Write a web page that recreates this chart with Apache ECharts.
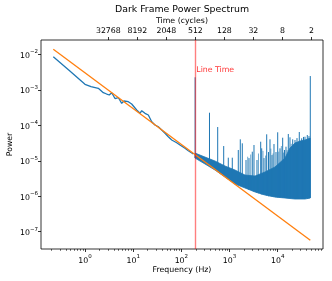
<!DOCTYPE html>
<html><head><meta charset="utf-8">
<script src="https://cdn.jsdelivr.net/npm/echarts@6/dist/echarts.min.js"></script>
<style>html,body{margin:0;padding:0;background:#fff}#c{width:332px;height:281px}</style>
</head><body><div id="c"></div>
<script>
// ---- data ----
const SAMPLE_RATE = 100000;           // Hz, cycles = SAMPLE_RATE / f
const LINE_TIME_CYCLES = 512;
const topCycles = [32768, 8192, 2048, 512, 128, 32, 8, 2];
const xMajorTicks = [1, 10, 100, 1000, 10000];
const yMajorTicks = [1e-7, 1e-6, 1e-5, 1e-4, 1e-3, 1e-2];

// low-frequency part of the spectrum
const lowFreq  = [0.2198, 0.4656, 1.0, 1.332, 1.888, 2.399, 2.820, 3.192, 3.582, 4.195, 4.911, 5.776, 6.446, 7.92, 9.31, 11.83, 13.86, 15.03, 17.59, 20.60, 24.23, 28.37, 33.22, 39.06, 45.76, 53.55, 63.07, 80.06, 93.69, 118.9, 139.3, 177.0];
const lowPower = [8.56e-3, 3.54e-3, 1.43e-3, 1.22e-3, 1.10e-3, 8.28e-4, 7.60e-4, 7.13e-4, 8.28e-4, 5.68e-4, 6.05e-4, 4.16e-4, 4.83e-4, 4.61e-4, 3.97e-4, 2.69e-4, 2.17e-4, 2.57e-4, 2.17e-4, 1.95e-4, 1.26e-4, 1.02e-4, 9.10e-5, 7.35e-5, 5.93e-5, 4.76e-5, 3.84e-5, 3.22e-5, 2.78e-5, 2.24e-5, 1.92e-5, 1.55e-5];

// dense noisy band (upper / lower envelope)
const bandFreq = [191.9, 309.5, 499.2, 805.0, 1298, 2094, 3377, 5445, 8780, 14160, 17980, 22840, 29000, 36830, 47450];
const bandHigh = [1.65e-5, 1.27e-5, 9.84e-6, 7.11e-6, 5.48e-6, 3.96e-6, 3.71e-6, 4.82e-6, 6.67e-6, 1.19e-5, 2.29e-5, 3.16e-5, 3.58e-5, 3.84e-5, 4.35e-5];
const bandLow  = [1.19e-5, 8.10e-6, 5.48e-6, 3.48e-6, 2.21e-6, 1.71e-6, 1.32e-6, 1.08e-6, 9.51e-7, 8.91e-7, 8.63e-7, 8.35e-7, 8.35e-7, 8.35e-7, 8.91e-7];

// strong narrow spikes
const spikeFreq = [193, 383.7, 567.9, 756.3, 942.5, 1141, 1520, 1672, 1840, 2197, 2535, 2966, 3218, 3715, 4434, 4650, 5190, 5906, 6436, 6915, 7608, 8370, 9212, 9990, 11150, 12680, 13820, 14860, 16590, 17980, 20470, 22840, 25130, 28050, 31470, 34290, 36830, 41110, 44570, 47450];
const spikeTop  = [2.25e-3, 2.26e-4, 8.93e-5, 2.60e-5, 1.22e-5, 1.22e-5, 2.01e-5, 4.02e-5, 3.10e-5, 1.05e-5, 1.19e-5, 1.80e-5, 2.78e-5, 1.05e-5, 3.44e-5, 2.24e-5, 1.19e-5, 5.56e-5, 1.76e-5, 4.02e-5, 1.45e-5, 2.96e-5, 1.76e-5, 6.34e-5, 2.24e-5, 4.46e-5, 2.01e-5, 2.49e-5, 5.68e-5, 4.58e-5, 4.02e-5, 3.84e-5, 4.35e-5, 6.46e-5, 4.29e-5, 4.69e-5, 4.76e-5, 5.31e-5, 4.97e-5, 2.44e-3];
const spikeBase = [1.2e-5, 7e-6, 5e-6, 3.8e-6, 3.2e-6, 2.7e-6, 2.2e-6, 2e-6, 1.9e-6, 1.7e-6, 1.5e-6, 1.4e-6, 1.35e-6, 1.25e-6, 1.15e-6, 1.12e-6, 1.1e-6, 1.05e-6, 1.0e-6, 1.0e-6, 9.7e-7, 9.5e-7, 9.3e-7, 9.2e-7, 9e-7, 9e-7, 9e-7, 8.9e-7, 8.8e-7, 8.7e-7, 8.6e-7, 8.5e-7, 8.4e-7, 8.4e-7, 8.4e-7, 8.4e-7, 8.4e-7, 8.5e-7, 8.7e-7, 9e-7];

// fainter thin spikes on top of the band
const faintSpikeFreq = [2380, 2750, 3990, 4950, 5600, 7200, 8000, 10500, 11900, 13200, 15700, 19100, 21600, 24000, 26500];
const faintSpikeTop  = [1.3e-5, 1.5e-5, 1.6e-5, 1.9e-5, 1.4e-5, 2.2e-5, 1.6e-5, 1.8e-5, 2.6e-5, 1.7e-5, 2.0e-5, 3.0e-5, 2.6e-5, 3.3e-5, 3.0e-5];
const faintSpikeBase = [1.6e-6, 1.5e-6, 1.2e-6, 1.1e-6, 1.1e-6, 1.0e-6, 9.6e-7, 9.2e-7, 9e-7, 9e-7, 8.8e-7, 8.6e-7, 8.5e-7, 8.4e-7, 8.4e-7];

// power-law fit line
const fitFreq  = [0.2198, 47450];
const fitPower = [1.384e-2, 5.73e-8];

const thresholdPower = 2.04e-6;
const lineTimeLabelPower = 3.6e-3;

// ---- chart ----
const FONT = 'DejaVu Sans';
const X_MIN = 0.1221, X_MAX = 87100;
const Y_MIN = 3.26e-8, Y_MAX = 2.53e-2;
const BLUE = '#1f77b4';

const xMinorTicks = [];
for (let k = -1; k <= 4; k++) for (let m = 2; m <= 9; m++) {
  const v = m * Math.pow(10, k);
  if (v > X_MIN && v < X_MAX) xMinorTicks.push(v);
}
const topTickFreq = topCycles.map(c => SAMPLE_RATE / c);

function pow10Label(v) {
  const e = Math.round(Math.log10(v));
  return '{b|10}{s|' + String(e).replace('-', '\u2212') + '}';
}
const richExp = {
  b: {fontSize: 7.8, fontFamily: FONT, color: '#000', lineHeight: 11, verticalAlign: 'bottom'},
  s: {fontSize: 5.5, fontFamily: FONT, color: '#000', lineHeight: 6, verticalAlign: 'top'}
};
const tickStyle = {color: '#000', width: 0.8};
const nameStyle = {fontSize: 7.8, fontFamily: FONT, color: '#000'};

function spikeSeries(name, freqs, tops, bases, width, opacity) {
  return {type: 'custom', name, z: 2, silent: true, clip: true,
    data: freqs.map((f, i) => [f, tops[i], bases[i]]),
    encode: {x: 0, y: [1, 2]},
    renderItem: (params, api) => {
      const p1 = api.coord([api.value(0), api.value(2)]);
      const p2 = api.coord([api.value(0), api.value(1)]);
      return {type: 'line', shape: {x1: p1[0], y1: p1[1], x2: p2[0], y2: p2[1]},
              style: {stroke: BLUE, lineWidth: width, opacity}};
    }};
}

const chart = echarts.init(document.getElementById('c'), null, {renderer: 'canvas'});
chart.setOption({
  animation: false,
  backgroundColor: '#fff',
  grid: {left: 41, right: 9, top: 40, bottom: 32, show: true, borderColor: '#000', borderWidth: 0.8,
         containLabel: false, outerBoundsMode: 'none'},
  graphic: [{type: 'text', x: 182, y: 10, style: {text: 'Dark Frame Power Spectrum', font: '9.4px "DejaVu Sans"', fill: '#000', textAlign: 'center', textVerticalAlign: 'middle'}}],
  xAxis: [
    {type: 'log', position: 'bottom', min: X_MIN, max: X_MAX,
     name: 'Frequency (Hz)', nameLocation: 'middle', nameGap: 17, nameMoveOverlap: false,
     nameTextStyle: nameStyle,
     axisLine: {show: false}, splitLine: {show: false}, minorTick: {show: false},
     axisTick: {customValues: xMajorTicks, length: 3, lineStyle: tickStyle},
     axisLabel: {customValues: xMajorTicks, margin: 5, formatter: pow10Label, rich: richExp}},
    {type: 'log', position: 'top', min: X_MIN, max: X_MAX,
     name: 'Time (cycles)', nameLocation: 'middle', nameGap: 15, nameMoveOverlap: false,
     nameTextStyle: nameStyle,
     axisLine: {show: false}, splitLine: {show: false},
     axisTick: {customValues: topTickFreq, length: 3, lineStyle: tickStyle},
     axisLabel: {customValues: topTickFreq, margin: 5, fontSize: 7.8, fontFamily: FONT, color: '#000',
                 formatter: v => String(Math.round(SAMPLE_RATE / v))}},
    {type: 'log', position: 'bottom', min: X_MIN, max: X_MAX,
     axisLine: {show: false}, splitLine: {show: false}, axisLabel: {show: false},
     axisTick: {customValues: xMinorTicks, length: 1.8, lineStyle: {color: '#000', width: 0.6}}}
  ],
  yAxis: [
    {type: 'log', min: Y_MIN, max: Y_MAX,
     name: 'Power', nameLocation: 'middle', nameGap: 27, nameMoveOverlap: false,
     nameTextStyle: nameStyle,
     axisLine: {show: false}, splitLine: {show: false},
     axisTick: {customValues: yMajorTicks, length: 3, lineStyle: tickStyle},
     axisLabel: {customValues: yMajorTicks, margin: 3, formatter: pow10Label, rich: richExp}}
  ],
  series: [
    {type: 'line', name: 'threshold', data: [[1, thresholdPower]], showSymbol: false, silent: true, z: 1,
     lineStyle: {opacity: 0},
     markLine: {symbol: 'none', silent: true, label: {show: false}, animation: false,
       lineStyle: {color: '#2ca02c', width: 1, type: 'solid'}, data: [{yAxis: thresholdPower}]}},
    {type: 'line', name: 'spectrum', data: lowFreq.map((f, i) => [f, lowPower[i]]), showSymbol: false, z: 2,
     lineStyle: {color: BLUE, width: 1.3}, itemStyle: {color: BLUE}},
    {type: 'custom', name: 'band', z: 2, silent: true, clip: true,
     data: [[bandFreq[0], bandLow[0]]],
     renderItem: (params, api) => {
       const pts = [];
       for (let i = 0; i < bandFreq.length; i++) pts.push(api.coord([bandFreq[i], bandHigh[i]]));
       for (let i = bandFreq.length - 1; i >= 0; i--) pts.push(api.coord([bandFreq[i], bandLow[i]]));
       return {type: 'polygon', shape: {points: pts}, style: {fill: BLUE, stroke: BLUE, lineWidth: 0.8}};
     }},
    spikeSeries('spikes', spikeFreq, spikeTop, spikeBase, 1, 1),
    spikeSeries('faintSpikes', faintSpikeFreq, faintSpikeTop, faintSpikeBase, 0.9, 0.7),
    {type: 'line', name: 'fit', data: fitFreq.map((f, i) => [f, fitPower[i]]), showSymbol: false, z: 3,
     lineStyle: {color: '#ff7f0e', width: 1.3}},
    {type: 'scatter', name: 'lineTime', z: 4, silent: true, symbolSize: 0,
     data: [[SAMPLE_RATE / LINE_TIME_CYCLES, lineTimeLabelPower]],
     label: {show: true, position: 'right', distance: 1, formatter: 'Line Time', color: '#ff0000', fontSize: 7.8, fontFamily: FONT},
     markLine: {symbol: 'none', silent: true, label: {show: false}, animation: false,
       lineStyle: {color: 'rgba(255,0,0,0.5)', width: 1.4, type: 'solid'},
       data: [{xAxis: SAMPLE_RATE / LINE_TIME_CYCLES}]}}
  ]
});
</script></body></html>
